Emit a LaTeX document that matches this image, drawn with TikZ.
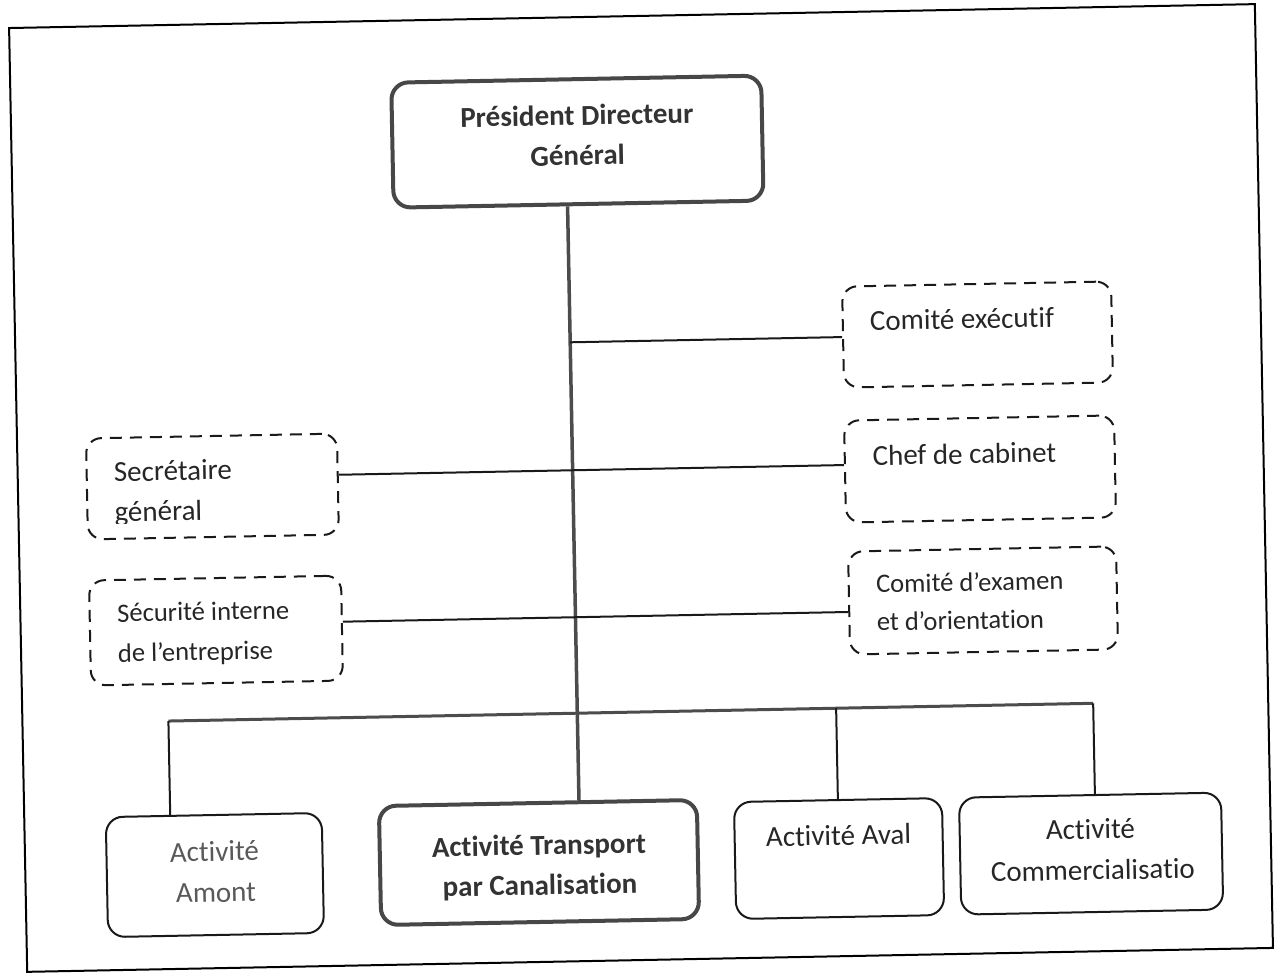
\documentclass[tikz,border=0pt]{standalone}
\usepackage{fontspec}
\setmainfont{Carlito}[Ligatures=NoCommon]
\begin{document}
\begin{tikzpicture}[x=1pt,y=-1pt,
  orgbox/.style={draw=black!90, line width=2pt, rounded corners=17pt, inner sep=0pt},
  keybox/.style={orgbox, draw=black!72, line width=4pt},
  dashbox/.style={draw=black!90, line width=2pt, dash pattern=on 12pt off 8pt, rounded corners=15pt, inner sep=0pt},
  lbl/.style={font=\fontsize{29}{40}\selectfont, text=black!85, inner sep=0pt},
  lblsmall/.style={lbl, font=\fontsize{26.6}{38}\selectfont},
  lblbold/.style={lbl, font=\fontsize{29}{40}\selectfont\bfseries, text=black!80},
  link/.style={draw=black!90, line width=2pt},
  trunkline/.style={draw=black!70, line width=3.5pt},
  frameline/.style={draw=black, line width=2pt}]
\useasboundingbox (0,0) rectangle (1279,974);
\begin{scope}[rotate around={1.1:(640,487)}, transform shape]
  % outer frame
  \draw[frameline] (18,16) rectangle (1264,960);

  % boxes
  \node[keybox, minimum width=370pt, minimum height=125pt] (pdg) at (584,140.5) {};
  \node[dashbox, minimum width=269pt, minimum height=101pt] (comex) at (980.4,341) {};
  \node[dashbox, minimum width=270pt, minimum height=102pt] (chef) at (980.3,475.5) {};
  \node[dashbox, minimum width=268pt, minimum height=103pt] (exam) at (980.8,607) {};
  \node[dashbox, minimum width=251pt, minimum height=101pt] (sec) at (212.5,478.3) {};
  \node[dashbox, minimum width=252pt, minimum height=105pt] (secu) at (213.3,622.4) {};
  \node[orgbox, minimum width=216pt, minimum height=120pt] (amont) at (207.5,866.8) {};
  \node[keybox, minimum width=318pt, minimum height=119pt] (transport) at (531.8,860.5) {};
  \node[orgbox, minimum width=208pt, minimum height=117pt] (aval) at (831.9,862.3) {};
  \node[orgbox, minimum width=262pt, minimum height=117pt] (comm) at (1084,862.2) {};

  % labels
  \node[lblbold, anchor=base] (pdgA) at (584,124) {Président Directeur};
  \node[lblbold, anchor=base] (pdgB) at (584,164) {Général};
  \node[lbl, anchor=base west] (comexA) at (873,335) {Comité exécutif};
  \node[lbl, anchor=base west] (chefA) at (873,470) {Chef de cabinet};
  \node[lblsmall, anchor=base west] (examA) at (874,597.5) {Comité d’examen};
  \node[lblsmall, anchor=base west] (examB) at (874,635.5) {et d’orientation};
  \node[lbl, anchor=base west] (secA) at (114,471.5) {Secrétaire};
  \begin{scope}
    \clip (sec.north west) rectangle (338,513.5);
    \node[lbl, anchor=base west] (secB) at (114,511.5) {général};
  \end{scope}
  \node[lblsmall, anchor=base west] (secuA) at (114.6,612) {Sécurité interne};
  \node[lblsmall, anchor=base west] (secuB) at (114.6,652) {de l’entreprise};
  \node[lbl, anchor=base, text=black!65] (amontA) at (207.5,853) {Activité};
  \node[lbl, anchor=base, text=black!65] (amontB) at (208.3,894) {Amont};
  \node[lblbold, anchor=base] (transA) at (532,853) {Activité Transport};
  \node[lblbold, anchor=base] (transB) at (532.3,893) {par Canalisation};
  \node[lbl, anchor=base] (avalA) at (831.8,849) {Activité Aval};
  \node[lbl, anchor=base] (commA) at (1083.8,847.5) {Activité};
  \node[lbl, anchor=base] (commB) at (1085.4,888.5) {Commercialisatio};

  % connector helper positions
  \coordinate (tx) at (573,0);
  \coordinate (rowA) at (0,469);
  \coordinate (rowB) at (0,616);
  \coordinate (bar) at (0,712);
  \coordinate (dropA) at (164,0);
  \coordinate (dropC) at (1089,0);

  % connectors
  \draw[trunkline] (pdg.south -| tx) -- (transport.north -| tx);
  \draw[link] (comex.west -| tx) -- (comex.west);
  \draw[link] (sec.east |- rowA) -- (chef.west |- rowA);
  \draw[link] (secu.east |- rowB) -- (exam.west |- rowB);
  \draw[trunkline, line width=3pt] (dropA |- bar) -- (dropC |- bar);
  \draw[link] (dropA |- bar) -- (amont.north -| dropA);
  \draw[link] (aval.north |- bar) -- (aval.north);
  \draw[link] (dropC |- bar) -- (comm.north -| dropC);
\end{scope}
\end{tikzpicture}
\end{document}
